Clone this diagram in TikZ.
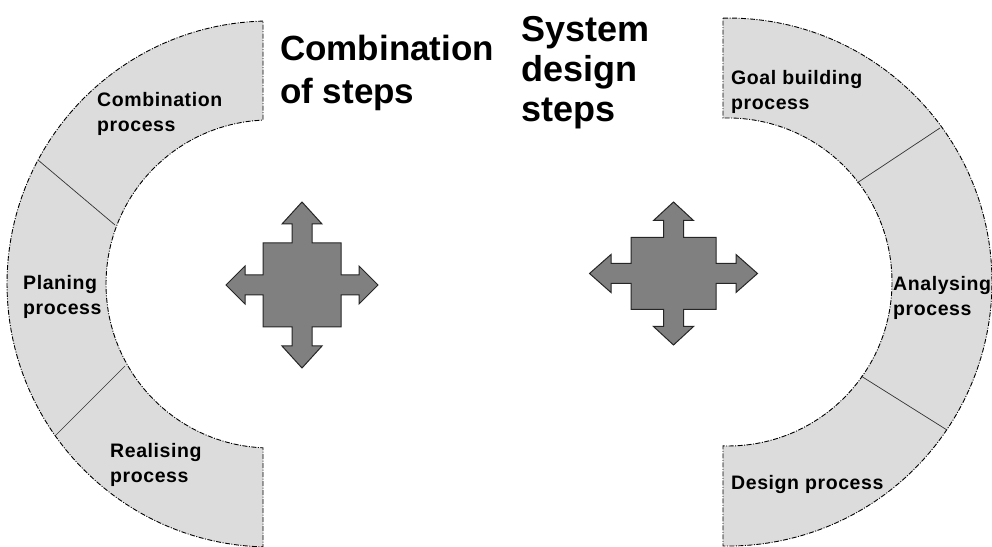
\documentclass[tikz,border=0pt]{standalone}
\usepackage{fontspec}
\setmainfont{Liberation Sans}
\newfontfamily\lblfont[LetterSpace=3]{Liberation Sans}
\definecolor{ringgray}{HTML}{DCDCDC}
\definecolor{crossgray}{HTML}{808080}
\tikzset{
  ring/.style={fill=ringgray, draw=black, line width=0.9pt,
    dash pattern=on 5pt off 1.5pt on 1pt off 1.5pt},
  divider/.style={draw=black!80, line width=0.7pt},
  crossshape/.style={fill=crossgray, draw=black!85, line width=1pt},
  lbl/.style={anchor=north west, inner sep=0pt, align=left,
    font=\lblfont\bfseries\fontsize{19.5}{25}\selectfont},
  ttl/.style={anchor=north west, inner sep=0pt, align=left},
}
% four way arrow: centre, half width, half height, x head base, x tip, y head base, y tip
\newcommand{\fourway}[7]{%
  \begin{scope}[shift={(#1)}]
    \draw[crossshape] (-10,#3) -- (-10,#6) -- (-20,#6) -- (0,#7) -- (20,#6) -- (10,#6) -- (10,#3)
      -- (#2,#3) -- (#2,10) -- (#4,10) -- (#4,19) -- (#5,0) -- (#4,-19) -- (#4,-10) -- (#2,-10)
      -- (#2,-#3) -- (10,-#3) -- (10,-#6) -- (20,-#6) -- (0,-#7) -- (-20,-#6) -- (-10,-#6) -- (-10,-#3)
      -- (-#2,-#3) -- (-#2,-10) -- (-#4,-10) -- (-#4,-19) -- (-#5,0) -- (-#4,19) -- (-#4,10) -- (-#2,10)
      -- (-#2,#3) -- cycle;
  \end{scope}}
\begin{document}
\begin{tikzpicture}[x=1pt, y=1pt, line join=miter]
  \useasboundingbox (0,0) rectangle (992,546);
  \clip (0,0) rectangle (992,546);
  % left ring
  \draw[ring] (263,524.9) arc[start angle=91.53, end angle=268.47, radius=263]
    -- (263,98.2) arc[start angle=267.55, end angle=92.45, radius=164] -- cycle;
  \draw[divider] (38,386) -- (115,321);
  \draw[divider] (55,110) -- (125,180);
  % right ring
  \draw[ring] (723,527.9) arc[start angle=91.08, end angle=-91.08, radius=264]
    -- (723,100.1) arc[start angle=-91.75, end angle=91.75, radius=164] -- cycle;
  \draw[divider] (940,418) -- (857,363);
  \draw[divider] (861,170) -- (947,116);
  % crosses
  \fourway{302,261}{39}{42}{57}{76}{61}{83}
  \fourway{673.5,272.5}{42.5}{36}{62.5}{84}{53}{71.5}
  % labels
  \path
    (97,453.5) node[lbl] (comb) {Combination\\process}
    (23,270.5) node[lbl] (plan) {Planing\\process}
    (110,102.5) node[lbl] (real) {Realising\\process}
    (731,475.5) node[lbl] (goal) {Goal building\\process}
    (893,269.5) node[lbl] (anal) {Analysing\\process}
    (731,70.5) node[lbl] (desg) {Design process}
    ;
  \path
    (280,511.5) node[ttl, font=\bfseries\fontsize{35}{43}\selectfont] (combtitle) {Combination\\of steps}
    (521,529.5) node[ttl, font=\bfseries\fontsize{36}{40}\selectfont] (systitle) {System\\design\\steps}
    ;
\end{tikzpicture}
\end{document}
